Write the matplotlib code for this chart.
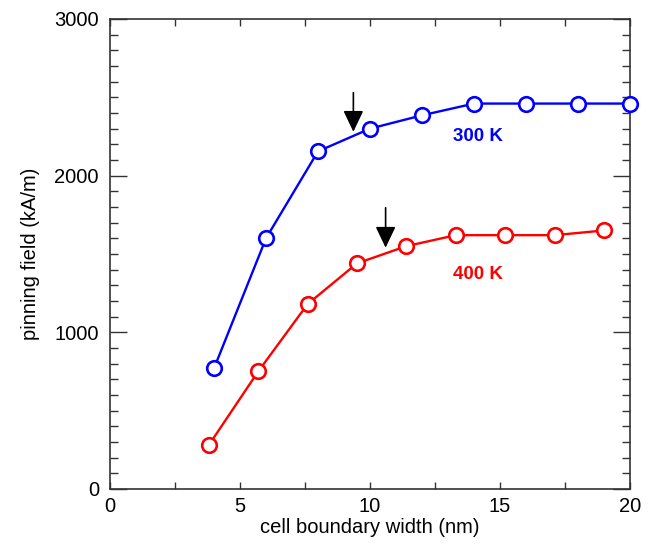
import numpy as np
import matplotlib.pyplot as plt
from matplotlib.ticker import MultipleLocator

plt.rcParams['font.family'] = ['Liberation Sans', 'DejaVu Sans']

# 300 K data
w300 = [4, 6, 8, 10, 12, 14, 16, 18, 20]
h300 = [770, 1600, 2155, 2300, 2385, 2460, 2460, 2460, 2460]
# 400 K data
w400 = [3.8, 5.7, 7.6, 9.5, 11.4, 13.3, 15.2, 17.1, 19.0]
h400 = [280, 750, 1180, 1440, 1550, 1620, 1620, 1620, 1650]

# arrows (x, tip y, tail y)
arrow300 = (9.36, 2280, 2530)
arrow400 = (10.6, 1540, 1795)

fig = plt.figure(figsize=(6.7, 5.45), dpi=100)
ax = fig.add_axes([0.1642, 0.1028, 0.7761, 0.8624])

ax.plot(w300, h300, '-o', color='#0000ff', lw=1.7, ms=10.5, mfc='white', mew=1.9, clip_on=False, zorder=3)
ax.plot(w400, h400, '-o', color='#ff0000', lw=1.7, ms=10.5, mfc='white', mew=1.9, clip_on=False, zorder=3)

for x, ytip, ytail in [arrow300, arrow400]:
    ax.annotate('', xy=(x, ytip), xytext=(x, ytail),
                arrowprops=dict(arrowstyle='-|>,head_length=1.3,head_width=0.62', color='black', lw=1.2,
                                shrinkA=0, shrinkB=0))

ax.text(14.16, 2250, '300 K', color='#0000ff', fontsize=13.5, fontweight='bold', ha='center', va='center')
ax.text(14.16, 1370, '400 K', color='#ff0000', fontsize=13.5, fontweight='bold', ha='center', va='center')

ax.set_xlim(0, 20)
ax.set_ylim(0, 3000)
ax.xaxis.set_major_locator(MultipleLocator(5))
ax.xaxis.set_minor_locator(MultipleLocator(2.5))
ax.yaxis.set_major_locator(MultipleLocator(1000))
ax.yaxis.set_minor_locator(MultipleLocator(100))
ax.tick_params(which='both', direction='in', top=True, right=True, width=1, color='#333333')
ax.tick_params(axis='x', which='both', length=5, pad=6)
ax.tick_params(axis='y', which='major', length=12, pad=8)
ax.tick_params(axis='y', which='minor', length=6)
ax.tick_params(labelsize=14.5)
for s in ax.spines.values():
    s.set_color('#333333')
    s.set_linewidth(1.2)

ax.set_xlabel('cell boundary width (nm)', fontsize=14.5, labelpad=1)
ax.set_ylabel('pinning field (kA/m)', fontsize=14.5, labelpad=10)

plt.savefig('out.png', dpi=100)
